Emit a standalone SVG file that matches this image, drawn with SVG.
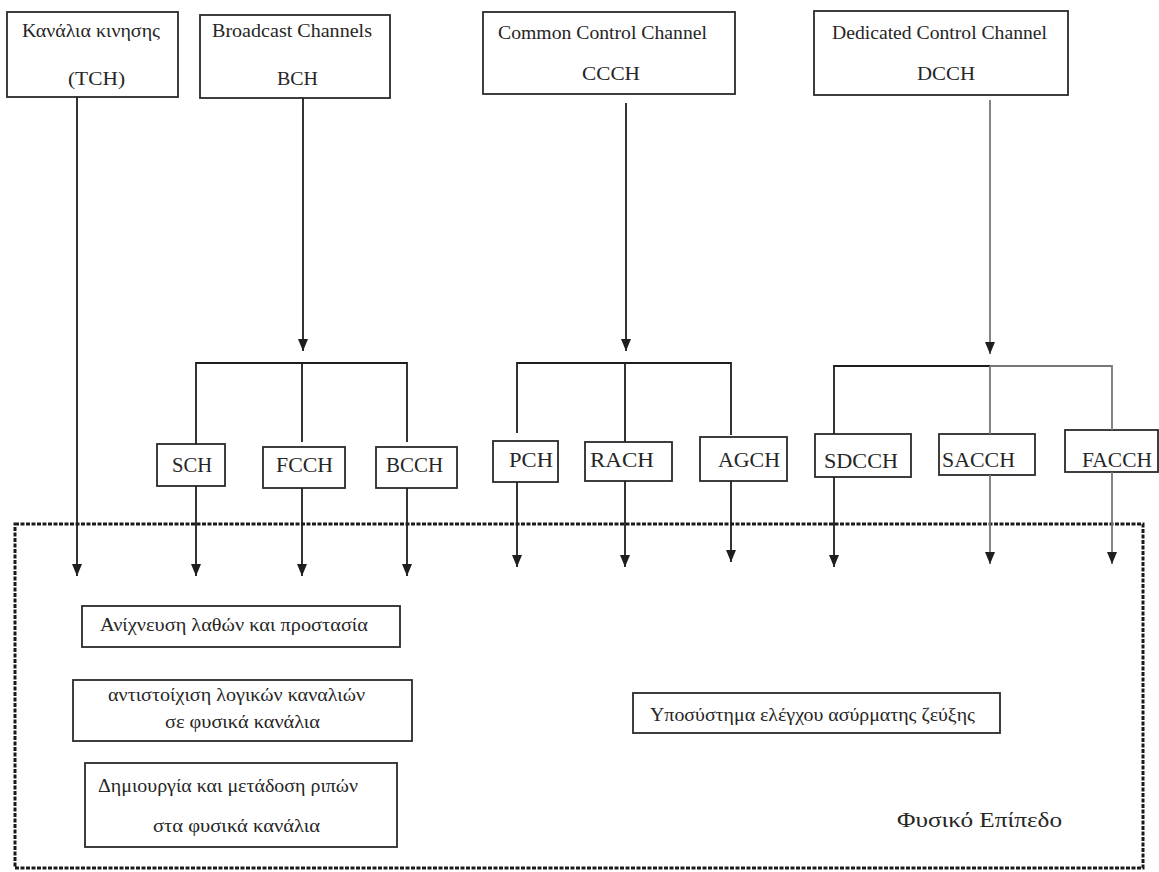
<svg xmlns="http://www.w3.org/2000/svg" width="1159" height="872" viewBox="0 0 1159 872">
  <style>
    .box { fill: #ffffff; stroke: #2a2a2a; stroke-width: 1.8; }
    .t { font-family: "Liberation Serif", "DejaVu Serif", serif; fill: #262626; }
    .top { font-size: 19px; }
    .ch { font-size: 20px; }
    .fn { font-size: 19px; }
    .wire { fill: none; stroke: #1e1e1e; stroke-width: 1.8; }
    .wire.light { stroke: #777777; }
    .frame { fill: none; stroke: #1a1a1a; stroke-width: 3; stroke-dasharray: 4 1.5; }
  </style>
  <defs>
    <marker id="down" viewBox="0 0 10 12" refX="5" refY="12" markerWidth="10" markerHeight="12" markerUnits="userSpaceOnUse" orient="0">
      <path d="M0,0 L10,0 L5,12 Z" fill="#1e1e1e"/>
    </marker>
  </defs>

  <rect width="1159" height="872" fill="#ffffff"/>

  <!-- physical layer frame -->
  <g id="physical-layer">
    <rect class="frame" x="15" y="524" width="1128" height="344"/>
    <text class="t" x="897" y="827" font-size="22" textLength="165" lengthAdjust="spacingAndGlyphs">Φυσικό Επίπεδο</text>
  </g>

  <!-- logical channel groups -->
  <g id="tch">
    <rect class="box" x="7" y="12" width="171" height="85"/>
    <text class="t top" x="22" y="37" textLength="138" lengthAdjust="spacingAndGlyphs">Κανάλια κινησης</text>
    <text class="t top" x="68" y="85" textLength="57" lengthAdjust="spacingAndGlyphs">(TCH)</text>
  </g>
  <g id="bch">
    <rect class="box" x="200" y="15" width="190" height="83"/>
    <text class="t top" x="212" y="37" textLength="160" lengthAdjust="spacingAndGlyphs">Broadcast Channels</text>
    <text class="t top" x="277" y="85" textLength="41" lengthAdjust="spacingAndGlyphs">BCH</text>
  </g>
  <g id="ccch">
    <rect class="box" x="483" y="12" width="252" height="82"/>
    <text class="t top" x="498" y="39" textLength="209" lengthAdjust="spacingAndGlyphs">Common Control Channel</text>
    <text class="t top" x="582" y="80" textLength="58" lengthAdjust="spacingAndGlyphs">CCCH</text>
  </g>
  <g id="dcch">
    <rect class="box" x="814" y="11" width="254" height="84"/>
    <text class="t top" x="832" y="39" textLength="215" lengthAdjust="spacingAndGlyphs">Dedicated Control Channel</text>
    <text class="t top" x="917" y="80" textLength="58" lengthAdjust="spacingAndGlyphs">DCCH</text>
  </g>

  <!-- individual channels -->
  <g id="sch">
    <rect class="box" x="157" y="444" width="68" height="42"/>
    <text class="t ch" x="172" y="472" textLength="40" lengthAdjust="spacingAndGlyphs">SCH</text>
  </g>
  <g id="fcch">
    <rect class="box" x="263" y="447" width="82" height="41"/>
    <text class="t ch" x="276" y="472" textLength="57" lengthAdjust="spacingAndGlyphs">FCCH</text>
  </g>
  <g id="bcch">
    <rect class="box" x="376" y="447" width="81" height="41"/>
    <text class="t ch" x="386" y="472" textLength="57" lengthAdjust="spacingAndGlyphs">BCCH</text>
  </g>
  <g id="pch">
    <rect class="box" x="493" y="441" width="65" height="41"/>
    <text class="t ch" x="509" y="467" textLength="44" lengthAdjust="spacingAndGlyphs">PCH</text>
  </g>
  <g id="rach">
    <rect class="box" x="585" y="442" width="87" height="39"/>
    <text class="t ch" x="590" y="467" textLength="64" lengthAdjust="spacingAndGlyphs">RACH</text>
  </g>
  <g id="agch">
    <rect class="box" x="700" y="437" width="87" height="44"/>
    <text class="t ch" x="718" y="467" textLength="62" lengthAdjust="spacingAndGlyphs">AGCH</text>
  </g>
  <g id="sdcch">
    <rect class="box" x="815" y="434" width="96" height="43"/>
    <text class="t ch" x="824" y="468" textLength="74" lengthAdjust="spacingAndGlyphs">SDCCH</text>
  </g>
  <g id="sacch">
    <rect class="box" x="939" y="434" width="96" height="41"/>
    <text class="t ch" x="942" y="467" textLength="73" lengthAdjust="spacingAndGlyphs">SACCH</text>
  </g>
  <g id="facch">
    <rect class="box" x="1065" y="430" width="93" height="42"/>
    <text class="t ch" x="1082" y="467" textLength="70" lengthAdjust="spacingAndGlyphs">FACCH</text>
  </g>

  <!-- physical layer functions -->
  <g id="error-detection">
    <rect class="box" x="82" y="606" width="318" height="41"/>
    <text class="t fn" x="100" y="631" textLength="268" lengthAdjust="spacingAndGlyphs">Ανίχνευση λαθών και προστασία</text>
  </g>
  <g id="channel-mapping">
    <rect class="box" x="73" y="680" width="339" height="61"/>
    <text class="t fn" x="108" y="701" textLength="257" lengthAdjust="spacingAndGlyphs">αντιστοίχιση λογικών καναλιών</text>
    <text class="t fn" x="165" y="728" textLength="155" lengthAdjust="spacingAndGlyphs">σε φυσικά κανάλια</text>
  </g>
  <g id="burst-generation">
    <rect class="box" x="85" y="763" width="312" height="84"/>
    <text class="t fn" x="98" y="792" textLength="260" lengthAdjust="spacingAndGlyphs">Δημιουργία και μετάδοση ριπών</text>
    <text class="t fn" x="153" y="832" textLength="167" lengthAdjust="spacingAndGlyphs">στα φυσικά κανάλια</text>
  </g>
  <g id="radio-link-control">
    <rect class="box" x="633" y="693" width="367" height="40"/>
    <text class="t fn" x="650" y="721" textLength="325" lengthAdjust="spacingAndGlyphs">Υποσύστημα ελέγχου ασύρματης ζεύξης</text>
  </g>

  <!-- connectors -->
  <g id="connectors">
    <path class="wire" d="M77 97 V576" marker-end="url(#down)"/>

    <path class="wire" d="M303 98 V351" marker-end="url(#down)"/>
    <path class="wire" d="M196 444 V363 H407 V442 M302 363 V442"/>
    <path class="wire" d="M196 486 V576" marker-end="url(#down)"/>
    <path class="wire" d="M302 488 V576" marker-end="url(#down)"/>
    <path class="wire" d="M407 488 V576" marker-end="url(#down)"/>

    <path class="wire" d="M626 103 V351" marker-end="url(#down)"/>
    <path class="wire" d="M517 433 V363 H731 V435 M625 363 V442"/>
    <path class="wire" d="M517 482 V567" marker-end="url(#down)"/>
    <path class="wire" d="M625 481 V567" marker-end="url(#down)"/>
    <path class="wire" d="M731 481 V562" marker-end="url(#down)"/>

    <path class="wire light" d="M990 100 V354" marker-end="url(#down)"/>
    <path class="wire" d="M834 434 V366 H990"/>
    <path class="wire light" d="M990 366 H1112 V430 M990 366 V434"/>
    <path class="wire" d="M834 477 V567" marker-end="url(#down)"/>
    <path class="wire light" d="M990 475 V564" marker-end="url(#down)"/>
    <path class="wire light" d="M1112 472 V564" marker-end="url(#down)"/>
  </g>
</svg>
